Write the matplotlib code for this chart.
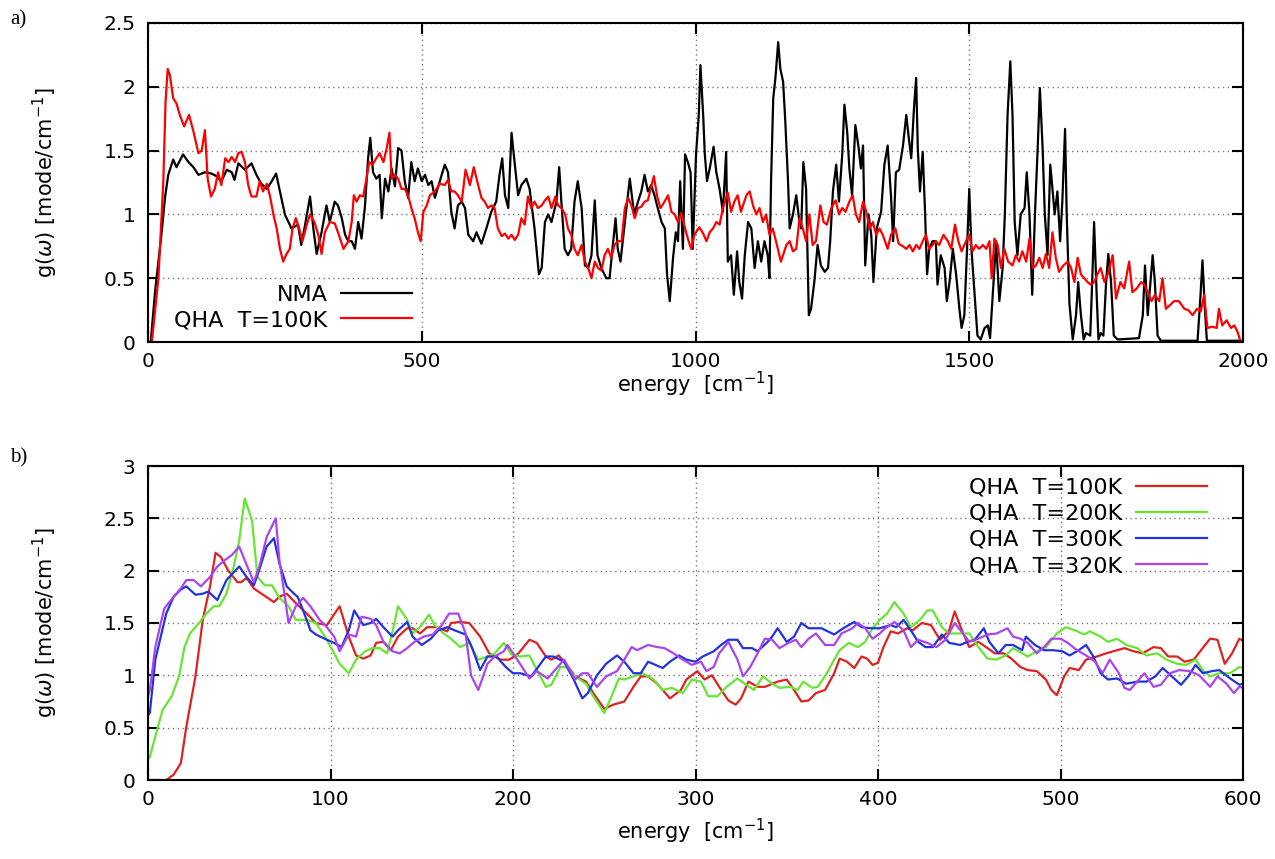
import matplotlib
matplotlib.use("Agg")
import matplotlib.pyplot as plt

plt.rcParams['font.family'] = ['DejaVu Sans']
plt.rcParams['mathtext.fontset'] = 'dejavusans'

# ---------------- panel a) data ----------------
nma_x = [0, 5, 13, 25, 31, 37, 46, 52, 64, 74, 83, 92, 104, 116, 125, 134, 144, 153, 158, 165,
         177, 189, 198, 207, 217, 226, 234, 241, 250, 262, 274, 280, 287, 296, 302, 308, 317, 326,
         332, 341, 347, 354, 360, 366, 372, 378, 384, 390, 396, 402, 406, 411, 417, 423, 427, 433,
         439, 445, 451, 457, 463, 469, 475, 481, 487, 493, 500, 506, 512, 518, 524, 533, 542, 548,
         554, 560, 566, 573, 579, 585, 594, 600, 609, 618, 627, 636, 642, 647, 652, 658, 664, 670,
         676, 682, 691, 697, 706, 714, 719, 725, 731, 737, 746, 751, 755, 761, 767, 773, 779, 785,
         792, 798, 804, 810, 816, 821, 828, 837, 843, 849, 854, 858, 863, 871, 880, 888, 895, 901,
         907, 913, 919, 925, 931, 938, 944, 948, 953, 959, 964, 968, 972, 977, 981, 986, 991, 995,
         1001, 1006, 1009, 1014, 1017, 1021, 1026, 1033, 1038, 1044, 1050, 1056, 1059, 1065, 1070,
         1076, 1080, 1085, 1090, 1096, 1102, 1108, 1114, 1120, 1126, 1132, 1135, 1138, 1142, 1146,
         1151, 1155, 1160, 1164, 1169, 1172, 1178, 1184, 1189, 1193, 1197, 1202, 1207, 1211, 1217,
         1223, 1229, 1236, 1242, 1246, 1251, 1257, 1262, 1268, 1272, 1277, 1281, 1286, 1292, 1298,
         1302, 1306, 1310, 1316, 1321, 1325, 1331, 1339, 1345, 1351, 1357, 1361, 1366, 1372, 1379,
         1385, 1389, 1394, 1399, 1403, 1406, 1410, 1415, 1419, 1423, 1427, 1433, 1439, 1442, 1448,
         1455, 1459, 1464, 1470, 1476, 1482, 1486, 1491, 1496, 1500, 1504, 1509, 1515, 1521, 1528,
         1534, 1538, 1543, 1549, 1555, 1561, 1565, 1570, 1575, 1579, 1583, 1588, 1594, 1601, 1605,
         1610, 1615, 1620, 1625, 1629, 1634, 1638, 1643, 1648, 1652, 1656, 1661, 1666, 1670, 1675,
         1678, 1683, 1689, 1695, 1699, 1704, 1709, 1713, 1721, 1725, 1728, 1733, 1736, 1740, 1745,
         1750, 1754, 1759, 1764, 1771, 1810, 1817, 1821, 1826, 1830, 1835, 1839, 1844, 1850, 1917,
         1922, 1926, 1930, 1934, 2000]
nma_y = [0, 0, 0.40, 0.86, 1.13, 1.31, 1.43, 1.37, 1.47, 1.41, 1.37, 1.31, 1.33, 1.32, 1.30, 1.26,
         1.35, 1.33, 1.27, 1.40, 1.35, 1.40, 1.31, 1.24, 1.20, 1.26, 1.32, 1.18, 1.00, 0.89, 0.92,
         0.76, 0.92, 1.14, 0.89, 0.69, 0.86, 1.07, 0.94, 1.10, 1.07, 0.97, 0.84, 0.79, 0.79, 0.73,
         0.94, 0.81, 1.05, 1.44, 1.60, 1.33, 1.28, 1.31, 0.97, 1.28, 1.18, 1.36, 1.22, 1.52, 1.50,
         1.26, 1.13, 1.41, 1.26, 1.36, 1.26, 1.31, 1.23, 1.26, 1.13, 1.26, 1.39, 1.33, 1.02, 0.89,
         1.07, 1.10, 1.05, 0.84, 0.79, 0.86, 0.77, 0.89, 1.02, 1.10, 1.31, 1.44, 1.15, 1.05, 1.64,
         1.39, 1.15, 1.23, 1.28, 1.20, 0.89, 0.53, 0.58, 0.94, 1.00, 0.94, 1.10, 1.37, 1.10, 0.73,
         0.68, 0.73, 1.10, 1.26, 1.05, 0.60, 0.58, 0.68, 1.11, 0.68, 0.58, 0.50, 0.50, 0.76, 0.97,
         0.73, 0.63, 0.94, 1.28, 1.00, 1.10, 1.18, 1.31, 1.18, 1.23, 1.15, 1.05, 0.94, 0.89, 0.53,
         0.32, 0.66, 0.86, 0.79, 1.26, 0.73, 1.47, 1.41, 1.33, 0.73, 1.47, 1.78, 2.17, 1.78, 1.47,
         1.26, 1.36, 1.53, 1.33, 1.20, 1.02, 1.49, 0.63, 0.68, 0.37, 0.71, 0.47, 0.34, 0.68, 0.94,
         0.89, 0.58, 0.79, 0.63, 0.79, 0.68, 0.50, 1.26, 1.91, 2.07, 2.35, 2.14, 2.04, 1.73, 1.26,
         0.89, 1.00, 1.15, 0.97, 0.89, 1.41, 1.20, 0.21, 0.26, 0.47, 0.76, 0.60, 0.55, 0.58, 0.79,
         1.18, 1.39, 1.10, 1.47, 1.86, 1.65, 1.36, 1.15, 1.70, 1.52, 1.36, 1.54, 0.60, 1.00, 0.84,
         0.47, 0.89, 1.02, 1.39, 1.54, 1.15, 0.79, 1.33, 1.35, 1.54, 1.78, 1.62, 1.44, 1.83, 2.07,
         1.52, 1.18, 1.49, 1.05, 0.53, 0.73, 0.79, 0.79, 0.45, 0.68, 0.58, 0.32, 0.47, 0.73, 0.53,
         0.26, 0.11, 0.21, 0.73, 1.20, 0.73, 0.42, 0.05, 0.02, 0.11, 0.13, 0.03, 0.37, 0.79, 0.32,
         0.58, 1.00, 1.78, 2.20, 1.78, 0.94, 0.68, 1.00, 1.05, 1.33, 1.00, 0.37, 1.00, 1.52, 1.99,
         1.52, 1.00, 0.68, 1.39, 1.20, 1.00, 1.18, 0.79, 1.10, 1.67, 1.00, 0.30, 0.02, 0.21, 0.47,
         0.21, 0.02, 0.07, 0.05, 0.53, 0.94, 0.34, 0.02, 0.07, 0.05, 0.47, 0.69, 0.47, 0.05, 0.02,
         0.03, 0.21, 0.60, 0.21, 0.42, 0.68, 0.47, 0.05, 0.01, 0.01, 0.34, 0.64, 0.29, 0.01, 0.01]

qha_top_x = [0, 7, 19, 28, 32, 36, 40, 46, 52, 58, 66, 75, 83, 92, 98, 104, 109, 115, 122, 128,
             134, 141, 147, 153, 159, 165, 171, 177, 183, 189, 198, 204, 210, 217, 223, 229, 235,
             241, 247, 253, 259, 264, 270, 276, 282, 290, 296, 304, 311, 317, 323, 332, 341, 347,
             357, 366, 372, 376, 381, 387, 393, 399, 404, 410, 417, 423, 430, 436, 441, 445, 451,
             457, 463, 469, 475, 481, 487, 493, 498, 503, 509, 515, 524, 533, 542, 548, 554, 560,
             566, 573, 580, 588, 595, 603, 609, 615, 621, 627, 633, 639, 646, 652, 658, 664, 670,
             676, 682, 688, 694, 700, 706, 712, 719, 725, 731, 737, 744, 749, 755, 762, 767, 773,
             779, 785, 792, 798, 804, 810, 816, 822, 828, 834, 840, 846, 852, 858, 865, 871, 877,
             883, 889, 895, 901, 907, 913, 918, 924, 930, 936, 942, 950, 956, 962, 968, 974, 981,
             986, 992, 998, 1007, 1014, 1020, 1026, 1032, 1038, 1044, 1050, 1059, 1065, 1071, 1077,
             1083, 1093, 1099, 1105, 1111, 1117, 1123, 1129, 1135, 1141, 1147, 1156, 1166, 1172,
             1178, 1184, 1190, 1196, 1202, 1208, 1214, 1220, 1228, 1234, 1240, 1248, 1256, 1262,
             1268, 1274, 1281, 1287, 1293, 1299, 1306, 1312, 1318, 1324, 1330, 1336, 1342, 1351,
             1357, 1365, 1371, 1379, 1385, 1391, 1397, 1403, 1409, 1415, 1421, 1427, 1433, 1439,
             1445, 1453, 1461, 1467, 1474, 1480, 1486, 1494, 1500, 1506, 1512, 1518, 1525, 1531,
             1537, 1541, 1546, 1552, 1558, 1564, 1571, 1579, 1585, 1591, 1597, 1604, 1610, 1616,
             1622, 1628, 1634, 1640, 1646, 1652, 1658, 1664, 1672, 1680, 1686, 1692, 1698, 1704,
             1710, 1716, 1722, 1728, 1734, 1740, 1747, 1753, 1762, 1768, 1776, 1783, 1792, 1798,
             1806, 1814, 1820, 1826, 1833, 1839, 1847, 1853, 1859, 1867, 1874, 1883, 1893, 1900,
             1908, 1916, 1923, 1929, 1935, 1944, 1952, 1956, 1962, 1970, 1978, 1984, 1990, 1995]
qha_top_y = [0, 0, 0.50, 1.26, 1.88, 2.14, 2.09, 1.91, 1.87, 1.78, 1.69, 1.78, 1.65, 1.48, 1.50,
             1.66, 1.28, 1.14, 1.20, 1.33, 1.23, 1.44, 1.41, 1.45, 1.41, 1.48, 1.49, 1.41, 1.23,
             1.14, 1.14, 1.26, 1.18, 1.24, 1.14, 1.00, 0.89, 0.73, 0.63, 0.69, 0.73, 0.89, 0.97,
             0.89, 0.79, 0.92, 1.00, 0.94, 0.84, 0.69, 0.86, 0.94, 0.93, 0.86, 0.73, 0.79, 0.94,
             1.15, 1.10, 1.15, 1.14, 1.28, 1.41, 1.39, 1.44, 1.48, 1.41, 1.52, 1.64, 1.28, 1.31,
             1.28, 1.20, 1.20, 1.15, 1.05, 0.97, 0.86, 0.79, 1.02, 1.07, 1.15, 1.18, 1.24, 1.23,
             1.27, 1.18, 1.18, 1.15, 1.10, 1.35, 1.23, 1.37, 1.23, 1.13, 1.10, 1.05, 1.07, 1.05,
             0.89, 0.83, 0.85, 0.81, 0.84, 0.80, 0.84, 0.97, 0.92, 1.14, 1.05, 1.10, 1.05, 1.07,
             1.11, 1.14, 1.05, 1.14, 1.07, 1.05, 1.00, 0.89, 0.84, 0.73, 0.68, 0.76, 0.63, 0.58,
             0.50, 0.63, 0.58, 0.56, 0.68, 0.73, 0.66, 0.76, 0.79, 0.79, 1.05, 1.13, 1.07, 0.97,
             1.05, 1.06, 1.10, 1.11, 1.20, 1.30, 1.14, 1.05, 1.09, 1.15, 1.02, 1.00, 0.94, 1.01,
             0.89, 0.81, 0.73, 0.84, 0.90, 0.85, 0.79, 0.86, 0.89, 0.94, 0.92, 1.05, 1.17, 1.02,
             1.10, 1.15, 1.02, 1.15, 1.18, 1.07, 1.00, 1.05, 0.94, 1.00, 0.84, 0.89, 0.79, 0.63,
             0.76, 0.79, 0.71, 0.73, 0.97, 0.89, 0.79, 1.00, 0.76, 0.79, 1.07, 0.94, 0.92, 1.05,
             1.11, 1.00, 1.05, 1.02, 1.10, 1.15, 1.00, 0.94, 1.10, 1.02, 0.89, 0.94, 0.84, 0.89,
             0.84, 0.73, 0.84, 0.89, 0.77, 0.75, 0.73, 0.76, 0.71, 0.76, 0.73, 0.79, 0.84, 0.73,
             0.76, 0.79, 0.76, 0.84, 0.79, 0.73, 0.92, 0.79, 0.71, 0.79, 0.84, 0.71, 0.76, 0.73,
             0.76, 0.73, 0.79, 0.50, 0.81, 0.76, 0.58, 0.73, 0.63, 0.60, 0.68, 0.63, 0.71, 0.63,
             0.81, 0.58, 0.60, 0.66, 0.58, 0.69, 0.58, 0.86, 0.66, 0.55, 0.60, 0.63, 0.58, 0.47,
             0.66, 0.53, 0.50, 0.47, 0.45, 0.47, 0.53, 0.58, 0.47, 0.53, 0.68, 0.34, 0.47, 0.42,
             0.63, 0.39, 0.42, 0.47, 0.45, 0.39, 0.32, 0.37, 0.32, 0.50, 0.26, 0.29, 0.32, 0.32,
             0.26, 0.25, 0.21, 0.26, 0.24, 0.37, 0.11, 0.12, 0.11, 0.26, 0.13, 0.17, 0.11, 0.13,
             0.08, 0.01]

# ---------------- panel b) data ----------------
t100_x = [0, 10, 14, 18, 21, 26, 30, 34, 37, 40, 44, 49, 51, 54, 58, 63, 69, 72, 76, 81, 87, 92,
          98, 105, 110, 114, 118, 122, 125, 129, 133, 137, 142, 145, 149, 153, 158, 164, 166, 171,
          176, 182, 187, 193, 198, 203, 209, 213, 218, 221, 225, 229, 234, 240, 244, 250, 255,
          261, 266, 270, 274, 279, 282, 286, 292, 295, 301, 305, 309, 313, 318, 322, 325, 329,
          334, 338, 345, 350, 354, 358, 362, 366, 371, 376, 379, 383, 387, 391, 394, 397, 400,
          403, 407, 411, 416, 419, 424, 429, 434, 439, 442, 446, 450, 455, 460, 464, 469, 473,
          478, 482, 487, 492, 495, 498, 502, 505, 510, 514, 520, 525, 531, 535, 540, 545, 551,
          555, 559, 564, 568, 573, 577, 582, 586, 590, 594, 598, 600]
t100_y = [0, 0, 0.05, 0.16, 0.51, 0.99, 1.53, 1.85, 2.17, 2.13, 2.00, 1.89, 1.89, 1.93, 1.83,
          1.77, 1.70, 1.75, 1.78, 1.69, 1.59, 1.50, 1.48, 1.66, 1.37, 1.19, 1.16, 1.19, 1.31,
          1.32, 1.24, 1.37, 1.45, 1.45, 1.40, 1.46, 1.46, 1.42, 1.50, 1.51, 1.50, 1.37, 1.21,
          1.15, 1.15, 1.21, 1.34, 1.31, 1.18, 1.15, 1.19, 1.11, 0.99, 0.94, 0.83, 0.68, 0.72,
          0.75, 0.89, 0.99, 0.99, 0.92, 0.86, 0.78, 0.86, 0.96, 1.04, 0.96, 1.00, 0.89, 0.76,
          0.72, 0.78, 0.94, 0.89, 0.89, 0.94, 0.96, 0.86, 0.75, 0.76, 0.83, 0.86, 1.02, 1.16,
          1.13, 1.07, 1.18, 1.16, 1.10, 1.12, 1.27, 1.42, 1.40, 1.45, 1.43, 1.50, 1.48, 1.34,
          1.43, 1.61, 1.43, 1.27, 1.32, 1.26, 1.21, 1.21, 1.16, 1.08, 1.05, 1.04, 0.96, 0.86,
          0.81, 0.99, 1.07, 1.05, 1.15, 1.18, 1.21, 1.24, 1.26, 1.23, 1.21, 1.27, 1.26, 1.18,
          1.18, 1.13, 1.15, 1.24, 1.35, 1.34, 1.11, 1.21, 1.35, 1.33]

t200_x = [0, 1, 5, 8, 13, 17, 20, 23, 27, 32, 36, 39, 43, 47, 50, 53, 57, 60, 64, 68, 72, 77, 81,
          87, 92, 97, 102, 105, 110, 114, 119, 123, 127, 131, 134, 137, 142, 145, 149, 154, 157,
          162, 166, 171, 176, 181, 186, 190, 195, 199, 204, 209, 214, 218, 221, 226, 229, 234,
          240, 244, 250, 254, 258, 261, 266, 271, 277, 282, 287, 293, 298, 303, 307, 312, 317,
          323, 327, 332, 337, 342, 346, 352, 356, 359, 364, 367, 372, 376, 379, 384, 389, 393,
          397, 401, 405, 409, 414, 418, 423, 427, 430, 435, 439, 445, 450, 455, 460, 465, 470,
          474, 479, 482, 487, 492, 498, 503, 508, 513, 516, 522, 526, 531, 536, 542, 547, 553,
          558, 564, 569, 574, 578, 582, 587, 593, 598, 600]
t200_y = [0.20, 0.22, 0.48, 0.67, 0.80, 0.99, 1.27, 1.40, 1.48, 1.59, 1.66, 1.66, 1.78, 2.04,
          2.29, 2.69, 2.48, 1.94, 1.86, 1.86, 1.74, 1.66, 1.53, 1.53, 1.50, 1.37, 1.21, 1.11,
          1.02, 1.15, 1.23, 1.26, 1.26, 1.21, 1.42, 1.66, 1.53, 1.40, 1.46, 1.58, 1.48, 1.40,
          1.35, 1.27, 1.31, 1.15, 1.18, 1.21, 1.31, 1.20, 1.18, 1.19, 1.02, 0.89, 0.91, 1.08,
          1.08, 0.99, 0.92, 0.80, 0.64, 0.80, 0.97, 0.96, 0.99, 1.02, 0.96, 0.86, 0.88, 0.83,
          0.96, 0.94, 0.80, 0.80, 0.89, 0.97, 0.92, 0.86, 0.99, 0.92, 0.88, 0.89, 0.86, 0.94,
          0.88, 0.89, 1.02, 1.15, 1.24, 1.31, 1.27, 1.32, 1.45, 1.53, 1.59, 1.70, 1.59, 1.46,
          1.53, 1.62, 1.62, 1.46, 1.40, 1.40, 1.40, 1.27, 1.16, 1.15, 1.19, 1.26, 1.21, 1.18,
          1.23, 1.27, 1.40, 1.46, 1.43, 1.39, 1.42, 1.37, 1.32, 1.35, 1.29, 1.26, 1.19, 1.21,
          1.15, 1.11, 1.10, 1.15, 1.05, 0.99, 1.02, 1.02, 1.08, 1.07]

t300_x = [0, 1, 4, 7, 10, 14, 18, 21, 26, 30, 33, 38, 43, 50, 54, 58, 61, 65, 69, 72, 76, 80, 82,
          85, 89, 92, 98, 102, 106, 110, 113, 118, 122, 125, 129, 134, 137, 142, 145, 150, 155,
          159, 164, 168, 174, 177, 182, 186, 191, 196, 200, 204, 210, 218, 222, 228, 233, 238,
          241, 246, 251, 257, 261, 266, 270, 274, 282, 286, 291, 295, 300, 304, 310, 314, 318,
          323, 326, 331, 334, 339, 342, 345, 350, 354, 358, 362, 366, 369, 376, 381, 387, 391,
          396, 401, 407, 410, 414, 418, 422, 426, 430, 435, 439, 445, 449, 453, 458, 461, 466,
          470, 474, 479, 481, 486, 491, 496, 501, 505, 510, 514, 518, 522, 526, 531, 536, 542,
          547, 552, 556, 561, 566, 570, 574, 578, 583, 587, 593, 598, 600]
t300_y = [0.62, 0.64, 1.15, 1.37, 1.59, 1.75, 1.82, 1.85, 1.77, 1.78, 1.80, 1.72, 1.91, 2.04,
          1.94, 1.86, 2.01, 2.23, 2.31, 2.07, 1.85, 1.78, 1.75, 1.62, 1.43, 1.39, 1.34, 1.31,
          1.27, 1.43, 1.62, 1.48, 1.50, 1.54, 1.46, 1.37, 1.43, 1.51, 1.37, 1.29, 1.35, 1.43,
          1.46, 1.43, 1.39, 1.29, 1.05, 1.18, 1.18, 1.08, 1.02, 1.02, 0.99, 1.18, 1.18, 1.13,
          0.97, 0.78, 0.83, 1.00, 1.11, 1.19, 1.13, 1.02, 1.02, 1.13, 1.07, 1.13, 1.19, 1.15,
          1.13, 1.18, 1.23, 1.29, 1.34, 1.34, 1.26, 1.26, 1.23, 1.31, 1.37, 1.45, 1.32, 1.37,
          1.50, 1.45, 1.45, 1.45, 1.39, 1.45, 1.51, 1.46, 1.45, 1.45, 1.48, 1.46, 1.53, 1.43,
          1.32, 1.27, 1.27, 1.39, 1.31, 1.29, 1.32, 1.34, 1.45, 1.32, 1.21, 1.29, 1.29, 1.24,
          1.37, 1.29, 1.24, 1.24, 1.23, 1.19, 1.24, 1.29, 1.18, 1.02, 0.96, 0.97, 0.92, 0.94,
          0.94, 0.99, 1.07, 0.99, 0.91, 0.99, 1.10, 1.02, 1.04, 1.05, 0.97, 0.91, 0.92]

t320_x = [0, 1, 4, 7, 9, 14, 18, 21, 25, 29, 34, 38, 42, 46, 50, 53, 58, 61, 65, 70, 72, 75, 77,
          81, 85, 89, 94, 98, 102, 105, 110, 114, 117, 122, 125, 129, 134, 138, 142, 146, 151,
          156, 161, 165, 170, 174, 177, 181, 186, 190, 195, 197, 202, 209, 213, 219, 223, 228,
          234, 238, 241, 246, 251, 257, 261, 265, 268, 274, 279, 283, 288, 293, 298, 303, 306,
          310, 313, 318, 323, 326, 330, 334, 338, 342, 346, 351, 355, 358, 362, 366, 371, 376,
          380, 386, 389, 393, 397, 401, 404, 409, 414, 418, 422, 427, 432, 437, 442, 447, 450,
          455, 460, 465, 471, 474, 478, 482, 487, 491, 495, 500, 504, 509, 514, 519, 523, 527,
          532, 535, 538, 542, 546, 551, 555, 560, 565, 571, 576, 582, 586, 591, 595, 598, 600]
t320_y = [0.80, 0.86, 1.27, 1.50, 1.64, 1.75, 1.83, 1.91, 1.91, 1.85, 1.94, 2.04, 2.10, 2.15,
          2.23, 2.10, 1.89, 2.04, 2.32, 2.50, 2.10, 1.75, 1.50, 1.66, 1.74, 1.66, 1.53, 1.46,
          1.37, 1.23, 1.39, 1.37, 1.56, 1.54, 1.48, 1.32, 1.23, 1.21, 1.26, 1.32, 1.37, 1.39,
          1.48, 1.59, 1.59, 1.40, 1.00, 0.86, 1.11, 1.18, 1.23, 1.29, 1.16, 0.97, 1.04, 0.97,
          1.05, 1.15, 0.96, 1.02, 1.02, 0.89, 0.99, 1.04, 1.15, 1.27, 1.24, 1.29, 1.27, 1.26,
          1.21, 1.15, 1.10, 1.13, 1.04, 1.08, 1.21, 1.32, 1.15, 0.99, 1.08, 1.21, 1.35, 1.34,
          1.26, 1.31, 1.34, 1.27, 1.35, 1.40, 1.29, 1.29, 1.40, 1.45, 1.50, 1.45, 1.35, 1.40,
          1.45, 1.51, 1.43, 1.27, 1.34, 1.31, 1.27, 1.34, 1.50, 1.39, 1.32, 1.35, 1.39, 1.40,
          1.45, 1.37, 1.35, 1.31, 1.21, 1.27, 1.35, 1.35, 1.31, 1.24, 1.19, 1.13, 1.02, 1.15,
          1.02, 0.88, 0.86, 0.94, 1.02, 0.89, 0.91, 1.02, 1.05, 1.04, 1.00, 0.89, 0.99, 0.92,
          0.83, 0.89, 0.88]

# ---------------- figure ----------------
fig = plt.figure(figsize=(12.75, 8.59), dpi=100)
W, H = 1275.0, 859.0
ax1 = fig.add_axes([148 / W, 1 - 342 / H, 1095 / W, 319 / H])
ax2 = fig.add_axes([148 / W, 1 - 780 / H, 1095 / W, 314 / H])

TICK_FS = 14.5
LAB_FS = 15
LEG_FS = 16

def style(ax):
    ax.grid(True, color='#777777', linestyle=(0, (1, 2.5)), linewidth=1.0)
    ax.set_axisbelow(True)
    ax.tick_params(direction='in', length=8, width=1.5, top=True, right=True,
                   labelsize=TICK_FS)
    ax.tick_params(axis='x', pad=7)
    ax.tick_params(axis='y', pad=9)
    for sp in ax.spines.values():
        sp.set_linewidth(1.5)

lw = 1.6
ax1.plot(nma_x, nma_y, color='black', lw=lw, label='NMA')
ax1.plot(qha_top_x, qha_top_y, color='#ff0000', lw=lw, label='QHA  T=100K')
ax1.set_xlim(0, 2000)
ax1.set_ylim(0, 2.5)
ax1.set_xticks([0, 500, 1000, 1500, 2000])
ax1.set_yticks([0, 0.5, 1, 1.5, 2, 2.5])
ax1.set_yticklabels(['0', '0.5', '1', '1.5', '2', '2.5'])
style(ax1)
ax1.set_xlabel(r'energy  [cm$^{-1}$]', fontsize=LAB_FS)
ax1.set_ylabel(r'g($\omega$) [mode/cm$^{-1}$]', fontsize=LAB_FS)
ax1.xaxis.set_label_coords(0.5, (342 - 384) / 319.0)
ax1.yaxis.set_label_coords((45 - 148) / 1095.0, 0.5)
ax1.xaxis.label.set_va('center')
ax1.yaxis.label.set_va('center')
ax1.legend(loc='lower right', bbox_to_anchor=(0.247, 0.016), frameon=False,
           markerfirst=False, fontsize=LEG_FS, handlelength=3.2, handletextpad=0.6,
           labelspacing=0.25, borderpad=0.3, borderaxespad=0.0)

ax2.plot(t100_x, t100_y, color='#dd2222', lw=lw, label='QHA  T=100K')
ax2.plot(t200_x, t200_y, color='#66e633', lw=lw, label='QHA  T=200K')
ax2.plot(t300_x, t300_y, color='#2233dd', lw=lw, label='QHA  T=300K')
ax2.plot(t320_x, t320_y, color='#aa44ee', lw=lw, label='QHA  T=320K')
ax2.set_xlim(0, 600)
ax2.set_ylim(0, 3)
ax2.set_xticks([0, 100, 200, 300, 400, 500, 600])
ax2.set_yticks([0, 0.5, 1, 1.5, 2, 2.5, 3])
ax2.set_yticklabels(['0', '0.5', '1', '1.5', '2', '2.5', '3'])
style(ax2)
ax2.set_xlabel(r'energy  [cm$^{-1}$]', fontsize=LAB_FS)
ax2.set_ylabel(r'g($\omega$) [mode/cm$^{-1}$]', fontsize=LAB_FS)
ax2.xaxis.set_label_coords(0.5, (780 - 831) / 314.0)
ax2.yaxis.set_label_coords((45 - 148) / 1095.0, 0.5)
ax2.xaxis.label.set_va('center')
ax2.yaxis.label.set_va('center')
ax2.legend(loc='upper right', bbox_to_anchor=(0.973, 0.985), frameon=False,
           markerfirst=False, fontsize=LEG_FS, handlelength=3.2, handletextpad=0.6,
           labelspacing=0.28, borderpad=0.3, borderaxespad=0.0)

fig.text(10 / W, 1 - 20 / H, 'a)', fontsize=15, family='Liberation Serif', va='center', ha='left')
fig.text(10 / W, 1 - 458 / H, 'b)', fontsize=15, family='Liberation Serif', va='center', ha='left')

fig.savefig('out.png', dpi=100)
